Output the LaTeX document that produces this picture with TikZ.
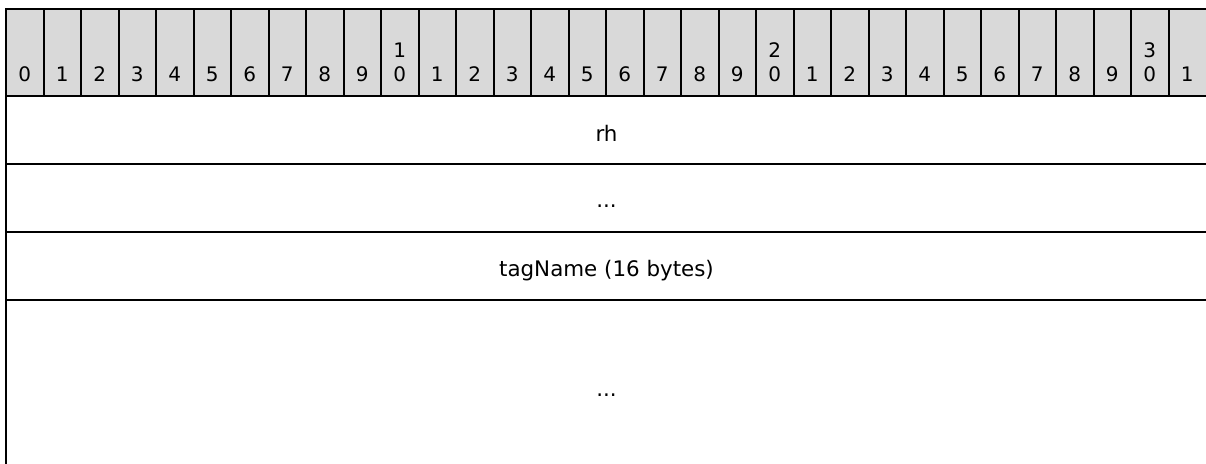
\documentclass[tikz,border=0pt]{standalone}
\usepackage{fontspec}
\setmainfont{DejaVu Sans}
\begin{document}
\begin{tikzpicture}[x=1pt,y=-1pt,line width=2pt,
    bit/.style={font=\fontsize{20}{24}\selectfont,anchor=base,inner sep=0pt},
    field/.style={font=\fontsize{21.4}{24}\selectfont,anchor=base,inner sep=0pt}]
        \useasboundingbox (0,0) rectangle (1206,463);
        \clip (0,0) rectangle (1206,463);
        % header with the bit numbers
        \fill[gray!30] (6,9) rectangle (1207,96);
        \foreach \i in {0,...,31}{
            \pgfmathtruncatemacro\u{mod(\i,10)}
            \node[bit] (b\i) at ({24.75+37.5*\i},81) {\u};
        }
        \foreach \t in {1,2,3}
            \node[bit] (t\t) at ({24.75+375*\t},57) {\t};
        \foreach \i in {1,...,31}
            \draw ({6+37.5*\i},9) -- ({6+37.5*\i},96);
        % fields
        \draw (6,9) rectangle (1207,470);
        \foreach \y in {96,164,232,300}
            \draw (6,\y) -- (1207,\y);
        \node[field] (rh) at (606.5,141.5) {rh};
        \node[field] (dotsA) at (606.5,207) {...};
        \node[field] (tagname) at (606.5,276.5) {tagName (16 bytes)};
        \node[field] (dotsB) at (606.5,396) {...};
    \end{tikzpicture}
\end{document}
